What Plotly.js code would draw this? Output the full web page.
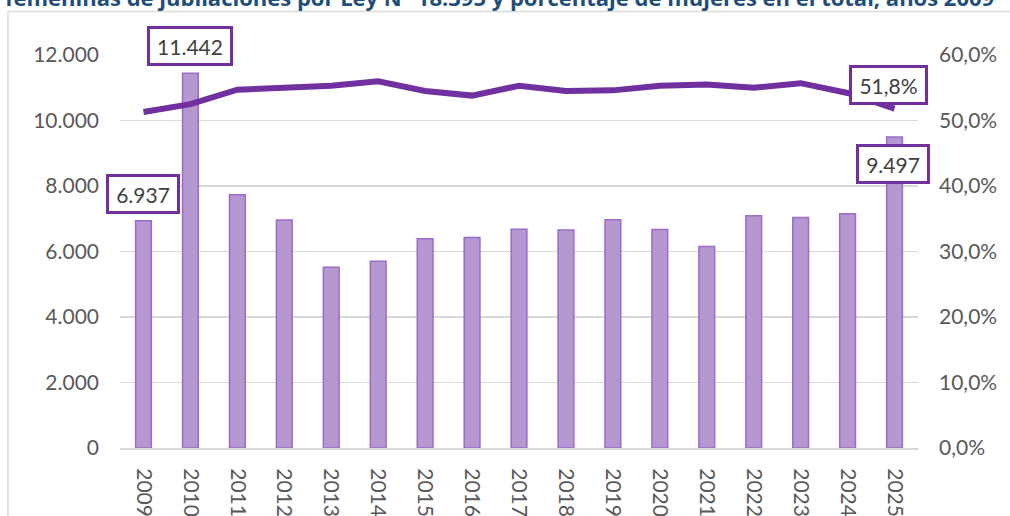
<!DOCTYPE html>
<html>
<head>
<meta charset="utf-8">
<script src="https://cdn.plot.ly/plotly-3.0.1.min.js"></script>
<style>html,body{margin:0;padding:0;background:#fff;}#chart{width:1010px;height:516px;}</style>
</head>
<body>
<div id="chart"></div>
<script>
const years = ["2009","2010","2011","2012","2013","2014","2015","2016","2017","2018","2019","2020","2021","2022","2023","2024","2025"];
const altasFemeninas = [6937, 11442, 7730, 6960, 5520, 5700, 6390, 6430, 6680, 6660, 6970, 6670, 6150, 7090, 7040, 7150, 9497];
const pctMujeres = [0.513, 0.525, 0.547, 0.551, 0.553, 0.560, 0.545, 0.538, 0.553, 0.545, 0.546, 0.553, 0.555, 0.550, 0.557, 0.542, 0.518];
const titleText = "femeninas de jubilaciones por Ley N° 18.395 y porcentaje de mujeres en el total, años 2009";

const purple = "#7030A0";
const fontFam = "Lato, 'Open Sans', sans-serif";
const tickFont = {family: fontFam, size: 21, color: "#595959"};

const bars = {
  type: "bar", x: years, y: altasFemeninas, yaxis: "y",
  width: 0.335,
  marker: {color: "#B598D0", line: {color: "#9B6BC8", width: 1.5}},
  hoverinfo: "x+y", showlegend: false
};
const line = {
  type: "scatter", mode: "lines", x: years, y: pctMujeres, yaxis: "y2",
  line: {color: purple, width: 6},
  showlegend: false
};

function lbl(i, text, yref, val, yshift, w, xshift) {
  return {
    x: i, y: val, xref: "x", yref: yref, showarrow: false,
    text: text, yshift: yshift, xshift: xshift || 0,
    font: {family: fontFam, size: 21, color: "#404040"},
    bgcolor: "#ffffff", bordercolor: purple, borderwidth: 3, borderpad: 1,
    width: w, height: 32, align: "center", valign: "middle"
  };
}

const layout = {
  width: 1010, height: 516,
  margin: {l: 120, r: 92, t: 55, b: 68},
  paper_bgcolor: "#ffffff", plot_bgcolor: "#ffffff",
  separators: ",.",
  bargap: 0.665,
  xaxis: {
    type: "category", range: [-0.5, years.length - 0.5], autorange: false,
    tickangle: 90, tickfont: tickFont,
    showgrid: false, showline: true, linecolor: "#D9D9D9", linewidth: 2,
    ticks: "", ticklabelstandoff: 14, fixedrange: true
  },
  yaxis: {
    range: [0, 12000], autorange: false, tickvals: [0,2000,4000,6000,8000,10000,12000], tickformat: ",d",
    tickfont: tickFont, showgrid: true, gridcolor: "#D9D9D9", gridwidth: 1.5,
    zeroline: false, ticks: "", ticklabelstandoff: 20, showline: false
  },
  yaxis2: {
    overlaying: "y", side: "right", range: [0, 0.6], autorange: false,
    tickvals: [0,0.1,0.2,0.3,0.4,0.5,0.6], tickformat: ".1%",
    tickfont: tickFont, showgrid: false, zeroline: false, ticks: "", ticklabelstandoff: 20
  },
  shapes: [{
    type: "rect", xref: "paper", yref: "paper",
    x0: -0.1404, x1: 1.5, y0: -0.5, y1: 1.1107,
    line: {color: "#D9D9D9", width: 1.5}, fillcolor: "rgba(0,0,0,0)", layer: "below"
  }],
  annotations: [
    {xref: "paper", yref: "paper", x: -0.146, y: 1.1476, xanchor: "left", yanchor: "middle",
     showarrow: false, text: "<b>" + titleText + "</b>",
     font: {family: "'Open Sans', sans-serif", size: 22, color: "#1F4E79"}},
    lbl(1, "11.442", "y", altasFemeninas[1], 27, 78),
    lbl(0, "6.937", "y", altasFemeninas[0], 27, 66),
    lbl(16, "9.497", "y", altasFemeninas[16], -27, 66, -2),
    lbl(16, "51,8%", "y2", pctMujeres[16], 24, 71, -6)
  ]
};

Plotly.newPlot("chart", [bars, line], layout, {displayModeBar: false, staticPlot: true});
</script>
</body>
</html>
